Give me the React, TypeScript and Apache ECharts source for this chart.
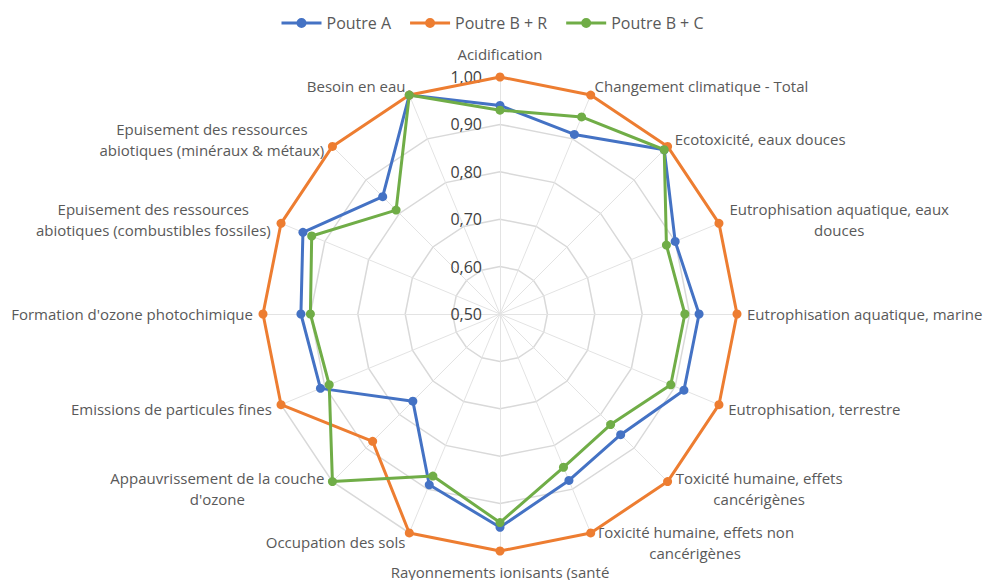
import React, { useEffect, useRef } from "react";
import * as echarts from "echarts";

// Categories in the reference's clockwise order, starting at the top
const categories = [
  "Acidification",
  "Changement climatique - Total",
  "Ecotoxicité, eaux douces",
  "Eutrophisation aquatique, eaux\ndouces",
  "Eutrophisation aquatique, marine",
  "Eutrophisation, terrestre",
  "Toxicité humaine, effets\ncancérigènes",
  "Toxicité humaine, effets non\ncancérigènes",
  "Rayonnements ionisants (santé\nhumaine)",
  "Occupation des sols",
  "Appauvrissement de la couche\nd'ozone",
  "Emissions de particules fines",
  "Formation d'ozone photochimique",
  "Epuisement des ressources\nabiotiques (combustibles fossiles)",
  "Epuisement des ressources\nabiotiques (minéraux & métaux)",
  "Besoin en eau",
];

const seriesNames = ["Poutre A", "Poutre B + R", "Poutre B + C"];
const poutreA = [0.94, 0.91, 0.99, 0.9, 0.92, 0.92, 0.86, 0.88, 0.95, 0.89, 0.76, 0.91, 0.92, 0.95, 0.85, 1.0];
const poutreBR = [1.0, 1.0, 1.0, 1.0, 1.0, 1.0, 1.0, 1.0, 1.0, 1.0, 0.88, 1.0, 1.0, 1.0, 1.0, 1.0];
const poutreBC = [0.93, 0.95, 0.99, 0.88, 0.89, 0.89, 0.83, 0.85, 0.94, 0.87, 1.0, 0.89, 0.9, 0.93, 0.81, 1.0];
const seriesColors = ["#4472C4", "#ED7D31", "#70AD47"];

const axisMin = 0.5;
const axisMax = 1.0;

const FONT = "'Open Sans', sans-serif";
const NAME_SIZE = 15;

function measure(text: string): number {
  const c = document.createElement("canvas");
  const ctx = c.getContext("2d");
  if (!ctx) return text.length * 8;
  ctx.font = `${NAME_SIZE}px 'Open Sans', sans-serif`;
  return ctx.measureText(text).width;
}

export default function App() {
  const ref = useRef<HTMLDivElement>(null);

  useEffect(() => {
    if (!ref.current) return;
    const chart = echarts.init(ref.current, undefined, { renderer: "svg" });

    // ECharts radar runs counter-clockwise; reorder so the reference's clockwise order is kept
    const order = categories.map((_, i) => (categories.length - i) % categories.length);
    const indicator = order.map((idx, k) => {
      const ind: any = { name: categories[idx], min: axisMin, max: axisMax };
      if (k === 0) {
        ind.axisLabel = { show: true };
        ind.nameGap = 13;
      }
      return ind;
    });
    const reorder = (arr: number[]) => order.map((idx) => arr[idx]);
    const allValues = [poutreA, poutreBR, poutreBC];

    // rich styles so that wrapped names have their lines centred on each other
    const rich: any = {};
    const keyOf: Record<string, string> = {};
    categories.forEach((name, i) => {
      if (name.indexOf("\n") >= 0) {
        const lines = name.split("\n");
        const w = Math.ceil(Math.max(...lines.map(measure))) + 2;
        const key = "c" + i;
        keyOf[name] = key;
        rich[key] = {
          width: w,
          align: "center",
          color: "#595959",
          fontSize: NAME_SIZE,
          fontFamily: FONT,
          lineHeight: 21,
        };
      }
    });

    const option: any = {
      animation: false,
      textStyle: { fontFamily: FONT },
      legend: {
        top: 10,
        left: "center",
        itemWidth: 40,
        itemHeight: 10,
        itemGap: 19,
        icon: "path://M0,3.5H40V6.5H0Z M15,5A5,5 0 1 1 25,5A5,5 0 1 1 15,5Z",
        textStyle: { color: "#595959", fontSize: 16, fontFamily: FONT },
        data: seriesNames,
      },
      radar: {
        center: [500, 314],
        radius: 237,
        startAngle: 90,
        splitNumber: 5,
        shape: "polygon",
        indicator,
        nameGap: 10,
        axisName: {
          color: "#595959",
          fontSize: NAME_SIZE,
          fontFamily: FONT,
          lineHeight: 21,
          rich,
          formatter: (name: string) => {
            const key = keyOf[name];
            if (!key) return name;
            return name
              .split("\n")
              .map((l) => `{${key}|${l}}`)
              .join("\n");
          },
        },
        axisLine: { lineStyle: { color: "#e3e3e3", width: 1 } },
        splitLine: { lineStyle: { color: "#d9d9d9", width: 1.5 } },
        splitArea: { show: false },
        axisTick: { show: false },
        axisLabel: {
          show: false,
          color: "#404040",
          fontSize: 16,
          margin: 18,
          fontFamily: FONT,
          formatter: (v: number) => v.toFixed(2).replace(".", ","),
        },
      },
      series: [
        {
          type: "radar",
          symbol: "circle",
          symbolSize: 9,
          data: seriesNames.map((name, i) => ({
            name,
            value: reorder(allValues[i]),
            itemStyle: { color: seriesColors[i] },
            lineStyle: { color: seriesColors[i], width: 3 },
          })),
        },
      ],
    };
    chart.setOption(option);
    return () => chart.dispose();
  }, []);

  return (
    <div
      ref={ref}
      style={{ position: "absolute", left: 0, top: 0, width: 985, height: 580, background: "#ffffff" }}
    />
  );
}
